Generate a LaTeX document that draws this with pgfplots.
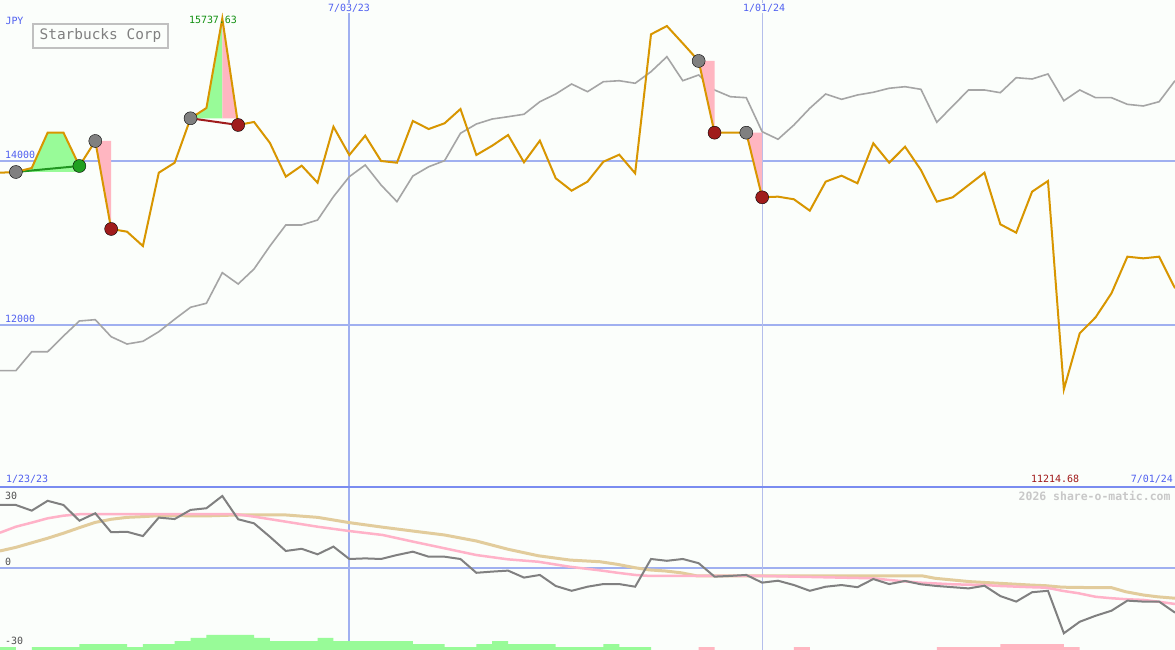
\documentclass[border=0pt]{standalone}
\usepackage{pgfplots}
\usepackage{pgfplotstable}
\pgfplotsset{compat=1.18}
\usepackage{fontspec}
\setmainfont{DejaVu Sans}
\setmonofont{DejaVu Sans Mono}
\definecolor{bg}{RGB}{251,254,251}
\definecolor{gridblue}{RGB}{160,176,240}
\definecolor{gridlight}{RGB}{180,190,235}
\definecolor{sepblue}{RGB}{122,140,240}
\definecolor{lblblue}{RGB}{80,96,240}
\definecolor{orangeline}{RGB}{216,150,0}
\definecolor{grayline}{RGB}{165,165,165}
\definecolor{fillgreen}{RGB}{152,251,152}
\definecolor{fillpink}{RGB}{255,182,193}
\definecolor{dotgray}{RGB}{128,128,128}
\definecolor{dotred}{RGB}{160,28,28}
\definecolor{dotgreen}{RGB}{32,160,32}
\definecolor{linegreen}{RGB}{32,150,32}
\definecolor{oscgray}{RGB}{128,128,128}
\definecolor{mapink}{RGB}{255,178,200}
\definecolor{matan}{RGB}{226,204,156}
\definecolor{lblgray}{RGB}{80,80,80}
\definecolor{wmgray}{RGB}{200,200,200}
\definecolor{boxgray}{RGB}{192,192,192}
\definecolor{txtgray}{RGB}{128,128,128}
\definecolor{maxgreen}{RGB}{16,144,16}
\definecolor{minred}{RGB}{160,24,24}

\pgfplotstableread{
k price ref
-1 13857 11443
0 13866 11443
1 13915 11674
2 14345 11674
3 14345 11866
4 13939 12049
5 14244 12065
6 13171 11857
7 13138 11768
8 12963 11801
9 13857 11918
10 13979 12070
11 14521 12216
12 14646 12265
13 15737.63 12638
14 14439 12500
15 14476 12683
16 14220 12963
17 13809 13220
18 13943 13220
19 13735 13280
20 14418 13565
21 14073 13809
22 14309 13951
23 14000 13707
24 13979 13504
25 14488 13817
26 14390 13930
27 14460 14004
28 14634 14338
29 14073 14451
30 14187 14512
31 14317 14540
32 13984 14570
33 14248 14723
34 13789 14817
35 13638 14939
36 13748 14845
37 13991 14967
38 14077 14979
39 13850 14948
40 15545 15089
41 15646 15272
42 15435 14979
43 15220 15049
44 14345 14866
45 14345 14784
46 14345 14772
47 13557 14357
48 13565 14265
49 13533 14439
50 13394 14643
51 13748 14817
52 13821 14752
53 13728 14805
54 14216 14838
55 13979 14887
56 14174 14906
57 13890 14874
58 13504 14472
59 13557 14671
60 13707 14866
61 13857 14866
62 13228 14833
63 13126 15016
64 13626 15000
65 13756 15061
66 11214.68 14735
67 11899 14866
68 12094 14772
69 12387 14772
70 12833 14691
71 12813 14671
72 12833 14723
73 12448 14979
}\pricetable

\pgfplotstableread{
k osc
-1 26.25
0 26.25
1 23.9
2 28.0
3 26.25
4 19.7
5 22.8
6 14.9
7 15.1
8 13.3
9 21.0
10 20.4
11 24.2
12 24.9
13 30.0
14 20.3
15 18.6
16 13.0
17 7.1
18 8.0
19 5.7
20 8.9
21 3.75
22 4.0
23 3.75
24 5.4
25 6.8
26 4.7
27 4.7
28 3.75
29 -2.0
30 -1.5
31 -1.1
32 -4.0
33 -2.9
34 -7.5
35 -9.5
36 -7.8
37 -6.7
38 -6.7
39 -7.8
40 3.75
41 3.0
42 3.75
43 2.0
44 -3.6
45 -3.3
46 -2.9
47 -6.1
48 -5.3
49 -7.1
50 -9.5
51 -7.8
52 -7.1
53 -8.0
54 -4.6
55 -6.7
56 -5.4
57 -6.8
58 -7.5
59 -8.0
60 -8.5
61 -7.4
62 -11.7
63 -14.0
64 -10.1
65 -9.5
66 -27.2
67 -22.4
68 -19.9
69 -17.8
70 -13.6
71 -14.0
72 -14.0
73 -18.6
}\osctable

\pgfplotstableread{
k ma
-1 14.7
0 17.2
1 18.9
2 20.7
3 21.8
4 22.4
13.9 22.4
15 21.4
17 19.3
19 17.2
21 15.4
23.1 13.75
25 11.0
27 8.2
29 5.4
31 3.6
32.9 2.6
34.9 0.5
36.8 -1.0
37.9 -2.0
39 -2.9
39.9 -3.3
46.9 -3.3
54 -4.3
55 -5.0
56.9 -6.1
59 -6.8
61 -7.1
62 -7.5
63.9 -8.0
64.9 -8.2
65.9 -9.5
66.9 -10.5
68 -12.0
69 -12.6
69.9 -13.0
71 -13.3
71.9 -14.0
73 -15.0
}\pinkma

\pgfplotstableread{
k ma
-1 7.1
0 8.6
1 10.5
2 12.4
3 14.5
4 16.8
5 19.0
6 20.3
7 21.1
8 21.4
9 21.8
10 21.8
12 21.7
14 22.1
17 22.1
19 21.1
21 18.9
23.1 17.0
25 15.4
27 13.75
29 11.25
31 7.8
32.9 5.1
34.9 3.3
36.8 2.6
37.9 1.5
39 0.1
39.9 -0.8
40.9 -1.25
41.9 -2.0
42.9 -3.3
57.1 -3.3
57.9 -4.3
60.1 -5.7
62 -6.4
63.9 -7.1
64.9 -7.4
65.9 -8.0
68 -8.2
69 -8.2
69.9 -9.9
71 -11.25
71.9 -12.0
73 -12.6
}\tanma

\pgfplotstableread{
k g p
-1 3 0
0 0 0
1 3 0
2 3 0
3 3 0
4 6 0
5 6 0
6 6 0
7 3 0
8 6 0
9 6 0
10 9 0
11 12 0
12 15 0
13 15 0
14 15 0
15 12 0
16 9 0
17 9 0
18 9 0
19 12 0
20 9 0
21 9 0
22 9 0
23 9 0
24 9 0
25 6 0
26 6 0
27 3 0
28 3 0
29 6 0
30 9 0
31 6 0
32 6 0
33 6 0
34 3 0
35 3 0
36 3 0
37 6 0
38 3 0
39 3 0
40 0 0
41 0 0
42 0 0
43 0 3
44 0 0
45 0 0
46 0 0
47 0 0
48 0 0
49 0 3
50 0 0
57 0 0
58 0 3
59 0 3
60 0 3
61 0 3
62 0 6
63 0 6
64 0 6
65 0 6
66 0 3
67 0 0
73 0 0
}\bartable

\begin{document}
\begin{tikzpicture}
\fill[bg] (0,0) rectangle (1175bp,650bp);

% main panel
\begin{axis}[at={(0,163bp)}, anchor=south west, scale only axis,
  width=1175bp, height=487bp,
  xmin=-1, xmax=73, ymin=10024.4, ymax=15963.4,
  axis line style={draw=none}, major tick length=0pt,
  xtick={21}, ytick={12000,14000}, xticklabels={}, yticklabels={},
  grid=major, major grid style={gridblue, line width=2bp},
  extra x ticks={47}, extra x tick labels={},
  extra x tick style={major grid style={gridlight, line width=1bp}}]
\addplot[grayline, line width=1.6bp] table[x=k,y=ref]{\pricetable};
\addplot[fill=fillgreen, draw=none] coordinates {(0,13866) (1,13915) (2,14345) (3,14345) (4,13939) (4,13866)} -- cycle;
\addplot[fill=fillpink, draw=none] coordinates {(5,14244) (6,13171) (6,14244)} -- cycle;
\addplot[fill=fillgreen, draw=none] coordinates {(11,14521) (12,14646) (13,15737.63) (13,14521)} -- cycle;
\addplot[fill=fillpink, draw=none] coordinates {(13,15737.63) (13.937,14521) (13,14521)} -- cycle;
\addplot[fill=fillpink, draw=none] coordinates {(43,15220) (44,14345) (44,15220)} -- cycle;
\addplot[fill=fillpink, draw=none] coordinates {(46,14345) (47,13557) (47,14345)} -- cycle;
\addplot[linegreen, line width=2bp] coordinates {(0,13866) (4,13939)};
\addplot[dotred, line width=2bp] coordinates {(11,14521) (14,14439)};
\addplot[only marks, mark=*, mark size=6.5bp, mark options={draw=none, fill=dotgray}] coordinates {(0,13866) (5,14244) (11,14521) (43,15220) (46,14345)};
\addplot[only marks, mark=*, mark size=6.5bp, mark options={draw=none, fill=dotgreen}] coordinates {(4,13939)};
\addplot[only marks, mark=*, mark size=6.5bp, mark options={draw=none, fill=dotred}] coordinates {(6,13171) (14,14439) (44,14345) (47,13557)};
\addplot[orangeline, line width=2bp] table[x=k,y=price]{\pricetable};
\end{axis}

% lower panel
\begin{axis}[at={(0,0)}, anchor=south west, scale only axis,
  width=1175bp, height=163bp,
  xmin=-1, xmax=73, ymin=-34.17, ymax=33.75,
  axis line style={draw=none}, major tick length=0pt,
  xtick={21}, ytick={0}, xticklabels={}, yticklabels={},
  grid=major, major grid style={gridblue, line width=2bp},
  extra x ticks={47}, extra x tick labels={},
  extra x tick style={major grid style={gridlight, line width=1bp}}]
\addplot[matan, line width=3bp] table[x=k,y=ma]{\tanma};
\addplot[mapink, line width=2.5bp] table[x=k,y=ma]{\pinkma};
\addplot[oscgray, line width=2bp] table[x=k,y=osc]{\osctable};
\end{axis}

% bars
\begin{axis}[at={(0,0)}, anchor=south west, scale only axis,
  width=1175bp, height=163bp,
  xmin=-1, xmax=73, ymin=0, ymax=163, hide axis]
\addplot[const plot mark left, fill=fillgreen, draw=none] table[x=k,y=g]{\bartable} \closedcycle;
\addplot[const plot mark left, fill=fillpink, draw=none] table[x=k,y=p]{\bartable} \closedcycle;
\end{axis}

\draw[sepblue, line width=2bp] (0,163bp) -- (1175bp,163bp);

\begin{scope}[every node/.style={font=\fontsize{10}{12}\selectfont\ttfamily, inner sep=1bp}]
\node[lblblue] at (14.5bp,629bp) {JPY};
\node[lblblue, anchor=west] at (4bp,495bp) {14000};
\node[lblblue, anchor=west] at (4bp,331bp) {12000};
\node[lblblue, fill=bg] at (349bp,642bp) {7/03/23};
\node[lblblue, fill=bg] at (764bp,642bp) {1/01/24};
\node[lblblue, anchor=west] at (5bp,171bp) {1/23/23};
\node[lblblue, anchor=east] at (1174bp,171bp) {7/01/24};
\node[minred] at (1055bp,171bp) {11214.68};
\node[maxgreen] at (213bp,630bp) {15737.63};
\node[lblgray, anchor=west] at (4bp,154bp) {30};
\node[lblgray, anchor=west] at (4bp,88bp) {0};
\node[lblgray, anchor=west] at (4bp,9.5bp) {-30};
\end{scope}
\draw[boxgray, line width=2bp, fill=bg] (33bp,602bp) rectangle (168bp,626bp);
\node[txtgray, font=\fontsize{14.5}{16}\selectfont\ttfamily] at (100.5bp,614bp) {Starbucks Corp};
\node[wmgray, anchor=east, font=\fontsize{11.5}{13}\selectfont\ttfamily\bfseries] at (1174bp,154bp) {2026 share-o-matic.com};

\pgfresetboundingbox
\path (0,0) rectangle (1175bp,650bp);
\end{tikzpicture}
\end{document}
